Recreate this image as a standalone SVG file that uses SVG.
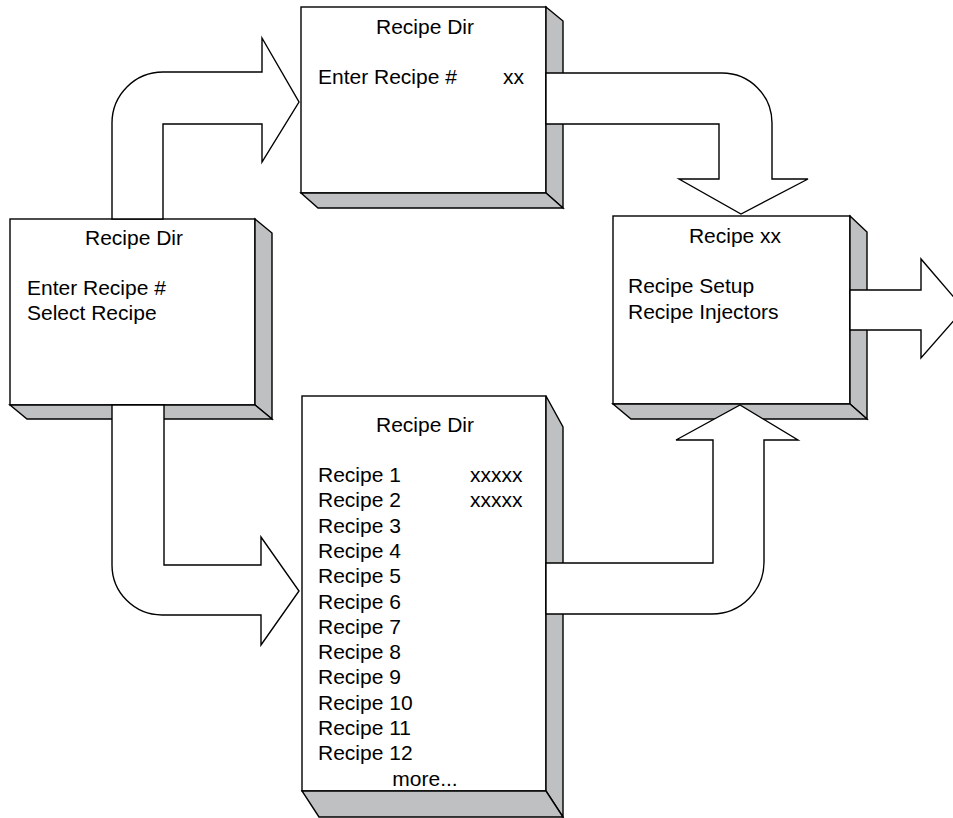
<svg xmlns="http://www.w3.org/2000/svg" width="953" height="818" viewBox="0 0 953 818">
<style>
.front{fill:#fff;stroke:#000;stroke-width:1.4}
.side{fill:#bfc0c2;stroke:#000;stroke-width:1.4;stroke-linejoin:miter}
.arrow{fill:#fff;stroke:#000;stroke-width:1.4;stroke-linejoin:miter}
text{font-family:"Liberation Sans",Arial,sans-serif;font-size:21px;fill:#000}
.c{text-anchor:middle}
</style>
<rect width="953" height="818" fill="#fff"/>
<g id="box-top">
<rect class="front" x="301" y="7" width="245" height="186"/>
<polygon class="side" points="546,7 563,21 563,208 546,193"/>
<polygon class="side" points="301,193 546,193 563,208 318,208"/>
<text class="c" x="425" y="34">Recipe Dir</text>
<text x="318" y="84">Enter Recipe #</text>
<text x="503" y="84">xx</text>
</g>
<g id="box-left">
<rect class="front" x="10" y="219" width="245" height="186"/>
<polygon class="side" points="255,219 272,233 272,419 255,405"/>
<polygon class="side" points="10,405 255,405 272,419 27,419"/>
<text class="c" x="134" y="245">Recipe Dir</text>
<text x="27" y="295">Enter Recipe #</text>
<text x="27" y="320">Select Recipe</text>
</g>
<g id="box-recipe">
<rect class="front" x="613" y="216" width="237" height="188"/>
<polygon class="side" points="850,216 867,232 867,419 850,404"/>
<polygon class="side" points="613,404 850,404 867,419 631,419"/>
<text class="c" x="735" y="243">Recipe xx</text>
<text x="628" y="293">Recipe Setup</text>
<text x="628" y="319">Recipe Injectors</text>
</g>
<g id="box-list">
<rect class="front" x="302" y="396" width="244" height="395"/>
<polygon class="side" points="546,396 563,427 563,817 546,791"/>
<polygon class="side" points="302,791 546,791 563,817 319,817"/>
<text class="c" x="425" y="432">Recipe Dir</text>
<text x="318" y="482">Recipe 1</text>
<text x="470" y="482">xxxxx</text>
<text x="318" y="507.3">Recipe 2</text>
<text x="470" y="507.3">xxxxx</text>
<text x="318" y="532.6">Recipe 3</text>
<text x="318" y="557.9">Recipe 4</text>
<text x="318" y="583.2">Recipe 5</text>
<text x="318" y="608.5">Recipe 6</text>
<text x="318" y="633.8">Recipe 7</text>
<text x="318" y="659.1">Recipe 8</text>
<text x="318" y="684.4">Recipe 9</text>
<text x="318" y="709.7">Recipe 10</text>
<text x="318" y="735">Recipe 11</text>
<text x="318" y="760.3">Recipe 12</text>
<text class="c" x="425" y="786">more...</text>
</g>
<g id="connectors">
<path class="arrow" d="M112,219 L112,123 A51,51 0 0 1 163,72 L262,72 L262,38 L299,102 L262,162 L262,124 L163,124 L163,219 Z"/>
<path class="arrow" d="M546,73 L722,73 A50,50 0 0 1 772,123 L772,179 L808,179 L741,214 L679,179 L719,179 L719,124 L546,124 Z"/>
<path class="arrow" d="M850,290 L921,290 L921,259 L964,309 L921,358 L921,330 L850,330 Z"/>
<path class="arrow" d="M112,405 L112,565 A50,50 0 0 0 162,615 L261,615 L261,645 L299,591 L261,537 L261,565 L164,565 L164,405 Z"/>
<path class="arrow" d="M546,614 L712,614 A52,52 0 0 0 764,562 L764,440 L798,440 L740,405 L676,440 L713,440 L713,563 L546,563 Z"/>
</g>
</svg>
